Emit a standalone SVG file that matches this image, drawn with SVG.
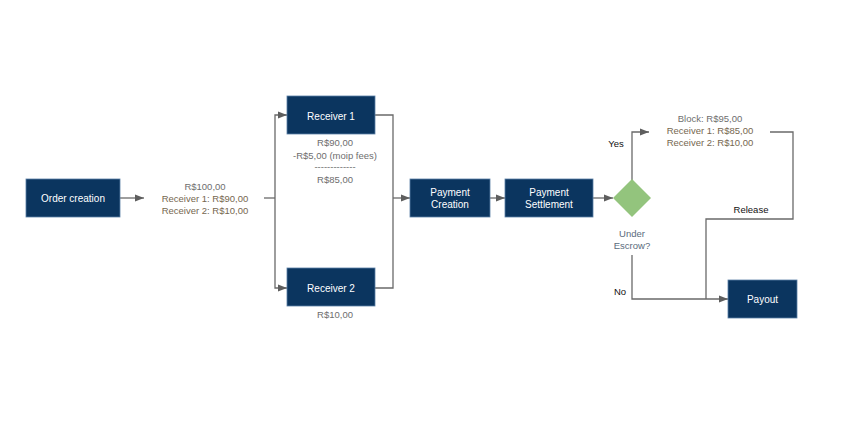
<svg xmlns="http://www.w3.org/2000/svg" width="854" height="428" viewBox="0 0 854 428">
<style>
.box{fill:#0b355f;stroke:#5b7fa6;stroke-width:0.8}
.nt{font-family:"Liberation Sans",Arial,sans-serif;font-size:10px;fill:#ffffff;text-anchor:middle}
.lb{font-family:"Liberation Sans",Arial,sans-serif;font-size:9.5px;fill:#6e6e6e;text-anchor:middle}
.lb2{fill:#76674f}
.bk{font-family:"Liberation Sans",Arial,sans-serif;font-size:9.5px;fill:#111111;text-anchor:middle}
.q{font-family:"Liberation Sans",Arial,sans-serif;font-size:9.5px;fill:#5a6b7c;text-anchor:middle}
.c{fill:none;stroke:#6a6a6a;stroke-width:1.3}
</style>
<defs>
<marker id="ah" markerWidth="10" markerHeight="8" refX="9" refY="4" orient="auto" markerUnits="userSpaceOnUse">
<path d="M0,0.5 L9,4 L0,7.5 Z" fill="#5e5e5e"/>
</marker>
</defs>
<rect width="854" height="428" fill="#ffffff"/>
<g id="connectors">
<path class="c" d="M120,198 L144,198" marker-end="url(#ah)"/>
<path class="c" d="M264,198 L275,198"/>
<path class="c" d="M275,198 L275,115 L287,115" marker-end="url(#ah)"/>
<path class="c" d="M275,198 L275,288 L287,288" marker-end="url(#ah)"/>
<path class="c" d="M375,115 L393,115 L393,198"/>
<path class="c" d="M375,288 L393,288 L393,198"/>
<path class="c" d="M393,198 L410,198" marker-end="url(#ah)"/>
<path class="c" d="M490,198 L505,198" marker-end="url(#ah)"/>
<path class="c" d="M593,198 L613,198" marker-end="url(#ah)"/>
<path class="c" d="M632,180 L632,132 L649,132" marker-end="url(#ah)"/>
<path class="c" d="M770,132 L793,132 L793,219 L706,219 L706,299"/>
<path class="c" d="M632,255 L632,299 L728,299" marker-end="url(#ah)"/>
</g>
<g id="order-creation">
<rect class="box" x="26" y="179" width="94" height="38"/>
<text class="nt" x="73" y="201.5">Order creation</text>
</g>
<g id="split-label">
<text class="lb" x="205" y="190">R$100,00</text>
<text class="lb lb2" x="205" y="202">Receiver 1: R$90,00</text>
<text class="lb lb2" x="205" y="214">Receiver 2: R$10,00</text>
</g>
<g id="receiver-1">
<rect class="box" x="287" y="96" width="88" height="38"/>
<text class="nt" x="331" y="119.5">Receiver 1</text>
<text class="lb" x="335" y="146">R$90,00</text>
<text class="lb" x="335" y="158.5">-R$5,00 (moip fees)</text>
<text class="lb" x="335" y="170">-------------</text>
<text class="lb" x="335" y="183">R$85,00</text>
</g>
<g id="receiver-2">
<rect class="box" x="287" y="268" width="88" height="38"/>
<text class="nt" x="331" y="291.5">Receiver 2</text>
<text class="lb" x="335" y="317.5">R$10,00</text>
</g>
<g id="payment-creation">
<rect class="box" x="410" y="179" width="80" height="38"/>
<text class="nt" x="450" y="196">Payment</text>
<text class="nt" x="450" y="208">Creation</text>
</g>
<g id="payment-settlement">
<rect class="box" x="505" y="179" width="88" height="38"/>
<text class="nt" x="549" y="196">Payment</text>
<text class="nt" x="549" y="208">Settlement</text>
</g>
<g id="under-escrow">
<polygon points="632,179 651,198 632,217 613,198" fill="#93c47d"/>
<text class="q" x="632" y="236.5">Under</text>
<text class="q" x="632" y="248.5">Escrow?</text>
</g>
<g id="yes-label"><text class="bk" x="616" y="146.5">Yes</text></g>
<g id="block-label">
<text class="lb" x="710" y="121.5">Block: R$95,00</text>
<text class="lb lb2" x="710" y="133.5">Receiver 1: R$85,00</text>
<text class="lb lb2" x="710" y="145.5">Receiver 2: R$10,00</text>
</g>
<g id="release-label"><text class="bk" x="751" y="212.5">Release</text></g>
<g id="no-label"><text class="bk" x="620" y="294.5">No</text></g>
<g id="payout">
<rect class="box" x="728" y="280" width="69" height="38"/>
<text class="nt" x="762.5" y="302.5">Payout</text>
</g>
</svg>
